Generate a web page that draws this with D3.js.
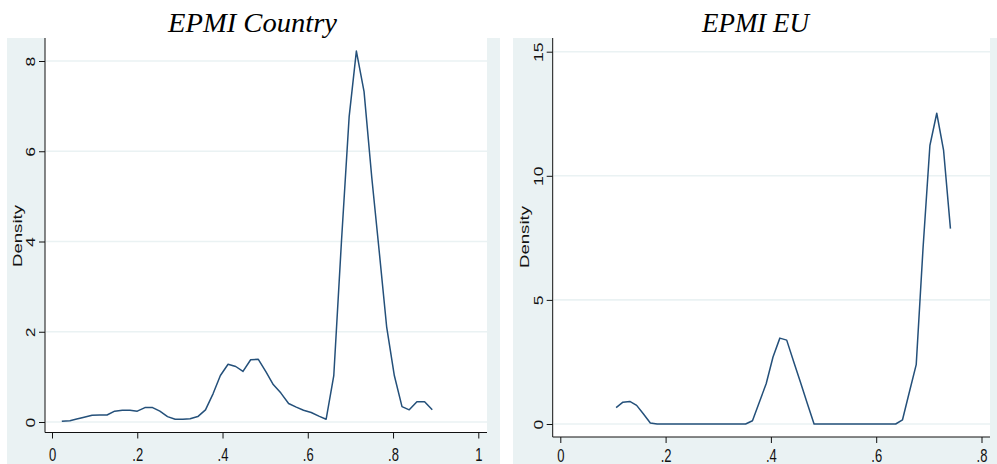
<!DOCTYPE html>
<html>
<head>
<meta charset="utf-8">
<script src="https://cdn.jsdelivr.net/npm/d3@7"></script>
<style>
    body { margin: 0; background: #fff; }
    svg { display: block; }
</style>
</head>
<body>
<div id="chart"></div>
<script>
// Two kernel density panels (Stata style): EPMI Country and EPMI EU.

// EPMI Country: density estimate points
var countryX = [0.023, 0.042, 0.058, 0.073, 0.094, 0.112, 0.129, 0.147, 0.165, 0.183,
    0.200, 0.218, 0.236, 0.253, 0.271, 0.289, 0.307, 0.324, 0.342, 0.360,
    0.378, 0.395, 0.413, 0.431, 0.448, 0.466, 0.484, 0.502, 0.519, 0.537,
    0.555, 0.573, 0.590, 0.608, 0.626, 0.643, 0.661, 0.679, 0.697, 0.714,
    0.732, 0.750, 0.768, 0.785, 0.803, 0.821, 0.838, 0.856, 0.874, 0.892];
var countryDensity = [0.015, 0.03, 0.065, 0.10, 0.15, 0.155, 0.155, 0.24, 0.26, 0.26,
    0.24, 0.32, 0.32, 0.24, 0.12, 0.06, 0.06, 0.07, 0.12, 0.27,
    0.63, 1.03, 1.28, 1.23, 1.12, 1.38, 1.39, 1.11, 0.83, 0.64,
    0.41, 0.33, 0.26, 0.21, 0.13, 0.06, 1.03, 4.0, 6.76, 8.22,
    7.32, 5.43, 3.74, 2.11, 1.03, 0.34, 0.27, 0.45, 0.45, 0.27];

// EPMI EU
var euX = [0.106, 0.119, 0.132, 0.145, 0.158, 0.171, 0.184, 0.197, 0.210, 0.223,
    0.235, 0.248, 0.261, 0.274, 0.287, 0.300, 0.313, 0.326, 0.339, 0.352,
    0.365, 0.378, 0.391, 0.404, 0.417, 0.430, 0.443, 0.456, 0.469, 0.482,
    0.495, 0.508, 0.520, 0.533, 0.546, 0.559, 0.572, 0.585, 0.598, 0.611,
    0.624, 0.637, 0.650, 0.663, 0.676, 0.689, 0.702, 0.715, 0.728, 0.741];
var euDensity = [0.66, 0.88, 0.91, 0.75, 0.40, 0.04, 0, 0, 0, 0,
    0, 0, 0, 0, 0, 0, 0, 0, 0, 0,
    0.13, 0.88, 1.62, 2.70, 3.46, 3.38, 2.53, 1.69, 0.84, 0,
    0, 0, 0, 0, 0, 0, 0, 0, 0, 0,
    0, 0, 0.17, 1.29, 2.39, 7.10, 11.22, 12.52, 11.02, 7.87];

var countryXTicks = [0, 0.2, 0.4, 0.6, 0.8, 1];
var countryYTicks = [0, 2, 4, 6, 8];
var euXTicks = [0, 0.2, 0.4, 0.6, 0.8];
var euYTicks = [0, 5, 10, 15];
var yTitle = 'Density';

var width = 997, height = 464;
var BG = '#eaf2f3', LINE = '#24507a', GRID = '#eaf2f3', INK = '#111';
var SANS = '"Liberation Sans", Arial, sans-serif';

var svg = d3.select('#chart').append('svg')
    .attr('width', width)
    .attr('height', height);

// .2 style labels like Stata
function fmtX(d) {
    if (d === 0 || d === 1) return String(d);
    return String(d).replace(/^0/, '');
}

function drawPanel(p) {
    var g = svg.append('g');

    // graph region (light) and plot region (white)
    g.append('rect')
        .attr('x', p.bg[0]).attr('y', p.bg[1])
        .attr('width', p.bg[2] - p.bg[0]).attr('height', p.bg[3] - p.bg[1])
        .attr('fill', BG);
    g.append('rect')
        .attr('x', p.plot[0]).attr('y', p.plot[1])
        .attr('width', p.plot[2] - p.plot[0]).attr('height', p.plot[3] - p.plot[1])
        .attr('fill', '#fff');

    var x = d3.scaleLinear().domain(p.xDomain).range(p.xRange);
    var y = d3.scaleLinear().domain(p.yDomain).range(p.yRange);

    // horizontal grid
    g.selectAll('line.grid')
        .data(p.yTicks)
        .join('line')
        .attr('class', 'grid')
        .attr('x1', p.plot[0] + 1).attr('x2', p.plot[2])
        .attr('y1', function (d) { return y(d); })
        .attr('y2', function (d) { return y(d); })
        .attr('stroke', GRID)
        .attr('stroke-width', 1.6);

    // density curve
    var pts = p.xs.map(function (v, i) { return [v, p.ds[i]]; });
    g.append('path')
        .datum(pts)
        .attr('fill', 'none')
        .attr('stroke', LINE)
        .attr('stroke-width', 1.5)
        .attr('stroke-linejoin', 'round')
        .attr('d', d3.line()
            .x(function (d) { return x(d[0]); })
            .y(function (d) { return y(d[1]); }));

    // x axis
    var xa = g.append('g')
        .attr('transform', 'translate(0,' + p.plot[3] + ')')
        .call(d3.axisBottom(x).tickValues(p.xTicks).tickSize(6).tickSizeOuter(0).tickFormat(fmtX));
    xa.select('.domain').remove();
    xa.selectAll('.tick line').attr('stroke', INK);
    xa.selectAll('.tick text')
        .attr('y', 0)
        .attr('transform', 'translate(0,' + (p.xLabelY - p.plot[3]) + ') scale(1,1.4)')
        .attr('dy', '0.36em')
        .attr('fill', INK)
        .attr('font-family', SANS)
        .attr('font-size', '13px');

    // y axis
    var ya = g.append('g')
        .attr('transform', 'translate(' + p.plot[0] + ',0)')
        .call(d3.axisLeft(y).tickValues(p.yTicks).tickSize(6).tickSizeOuter(0));
    ya.select('.domain').remove();
    ya.selectAll('.tick line').attr('stroke', INK);
    ya.selectAll('.tick text')
        .attr('x', 0).attr('dy', '0.36em')
        .attr('text-anchor', 'middle')
        .attr('transform', 'translate(' + (p.yLabelX - p.plot[0]) + ',0) scale(1,1.35) rotate(-90)')
        .attr('fill', INK)
        .attr('font-family', SANS)
        .attr('font-size', '13px');

    // axis lines along the plot region
    g.append('line')
        .attr('x1', p.plot[0]).attr('x2', p.plot[2])
        .attr('y1', p.plot[3]).attr('y2', p.plot[3])
        .attr('stroke', INK).attr('stroke-width', 1);
    g.append('line')
        .attr('x1', p.plot[0]).attr('x2', p.plot[0])
        .attr('y1', p.plot[1]).attr('y2', p.plot[3])
        .attr('stroke', INK).attr('stroke-width', 1);

    // y title
    g.append('text')
        .attr('transform', 'translate(' + p.yTitleX + ',' + p.yTitleY + ') scale(1,1.38) rotate(-90)')
        .attr('text-anchor', 'middle')
        .attr('dy', '0.36em')
        .attr('fill', INK)
        .attr('font-family', SANS)
        .attr('font-size', '13.5px')
        .text(yTitle);

    // panel title
    svg.append('text')
        .attr('x', p.titleX)
        .attr('y', 32)
        .attr('text-anchor', 'middle')
        .attr('textLength', p.titleW)
        .attr('lengthAdjust', 'spacingAndGlyphs')
        .attr('fill', '#000')
        .attr('font-family', '"Liberation Serif", "DejaVu Serif", serif')
        .attr('font-style', 'italic')
        .attr('font-size', '27px')
        .text(p.title);
}

drawPanel({
    title: 'EPMI Country', titleX: 252.5, titleW: 169,
    bg: [7, 38, 500, 464], plot: [45, 38, 487, 432.5],
    xDomain: [0, 1], xRange: [52, 478.3],
    yDomain: [0, 8], yRange: [422, 61],
    xs: countryX, ds: countryDensity,
    xTicks: countryXTicks, yTicks: countryYTicks,
    xLabelY: 454, yLabelX: 30, yTitleX: 17, yTitleY: 236
});

drawPanel({
    title: 'EPMI EU', titleX: 755.5, titleW: 107,
    bg: [513, 38, 997, 464], plot: [552.7, 38, 990, 437],
    xDomain: [0, 0.8], xRange: [560.3, 981.5],
    yDomain: [0, 15], yRange: [424, 51.7],
    xs: euX, ds: euDensity,
    xTicks: euXTicks, yTicks: euYTicks,
    xLabelY: 455, yLabelX: 538.7, yTitleX: 524, yTitleY: 237
});
</script>
</body>
</html>
